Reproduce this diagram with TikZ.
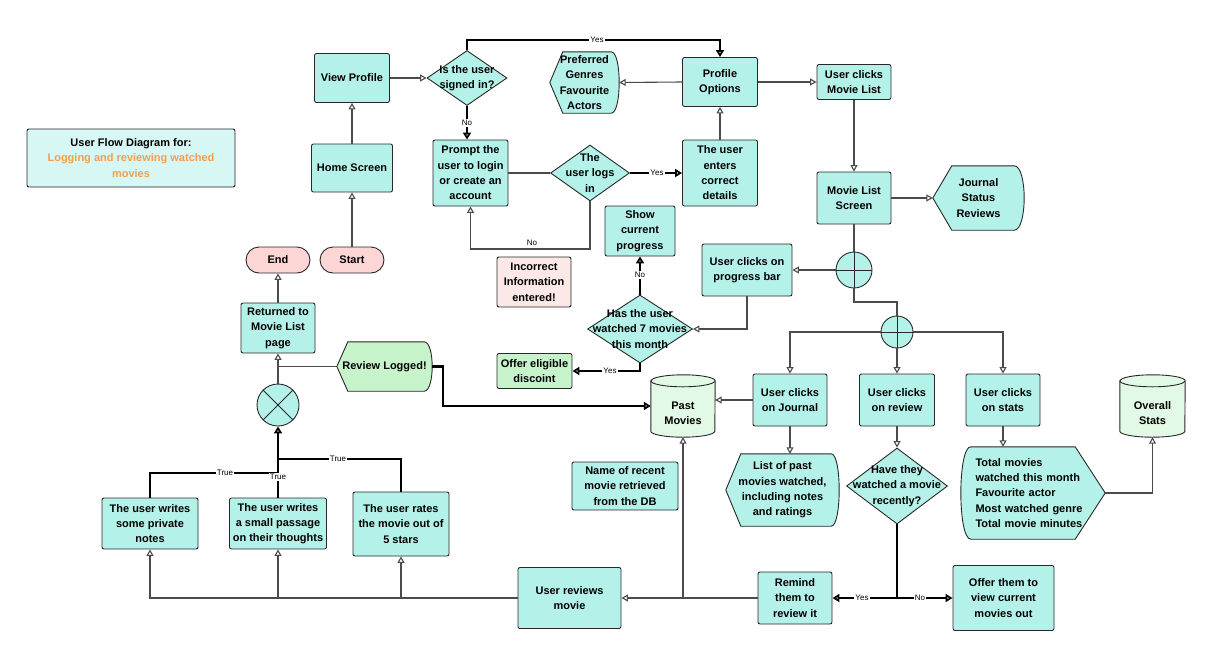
\documentclass[tikz,border=0pt]{standalone}
\usepackage{fontspec}
\setmainfont{Liberation Sans}
\usetikzlibrary{arrows.meta,shapes.geometric,backgrounds,calc}
\definecolor{cy}{RGB}{180,242,233}
\definecolor{gr}{RGB}{199,243,203}
\definecolor{cg}{RGB}{226,249,229}
\definecolor{pk}{RGB}{252,213,213}
\definecolor{pl}{RGB}{253,232,232}
\definecolor{tl}{RGB}{214,247,243}
\definecolor{org}{RGB}{240,160,80}
\definecolor{bd}{RGB}{40,40,40}
\definecolor{lc}{RGB}{75,75,75}
\tikzset{
  x=1pt, y=-1pt,
  fnt/.style={font=\bfseries\fontsize{11}{15.3}\selectfont},
  box/.style={draw=bd, line width=0.9pt, fill=cy, rounded corners=2pt, align=center, fnt, inner sep=0pt},
  sz/.style 2 args={minimum width=#1pt, minimum height=#2pt},
  pill/.style={box, fill=pk, rounded corners=13pt},
  dia/.style={diamond, draw=bd, line width=0.9pt, fill=cy, inner sep=0pt, aspect=1},
  txt/.style={align=center, fnt, inner sep=0pt},
  dnode/.style={align=center, fnt, inner sep=0pt},
  shp/.style={draw=bd, line width=0.9pt},
  crc/.style={circle, draw=bd, line width=0.9pt, fill=cy, inner sep=0pt},
  ln/.style={draw=lc, line width=1.1pt},
  arr/.style={ln, -{Triangle[open,length=6.5pt,width=7pt]}},
  tk/.style={draw=black, line width=2.2pt},
  tarr/.style={tk, -{Triangle[open,length=7pt,width=8pt]}},
  lab/.style={font=\fontsize{8}{9}\selectfont, fill=white, inner sep=1pt},
  labn/.style={font=\fontsize{8}{9}\selectfont, inner sep=1pt},
}
\newcommand{\dispL}[4]{%
\begin{pgfonlayer}{background}
\draw[shp,fill=#2] (#1.west) -- ([xshift=#3]#1.north west) -- ([xshift=-#4]#1.north east)
  .. controls ([xshift=0.33*#4]#1.north east) and ([xshift=0.33*#4]#1.south east) ..
  ([xshift=-#4]#1.south east) -- ([xshift=#3]#1.south west) -- cycle;
\end{pgfonlayer}}
\newcommand{\dispR}[4]{%
\begin{pgfonlayer}{background}
\draw[shp,fill=#2] (#1.east) -- ([xshift=-#3]#1.north east) -- ([xshift=#4]#1.north west)
  .. controls ([xshift=-0.33*#4]#1.north west) and ([xshift=-0.33*#4]#1.south west) ..
  ([xshift=#4]#1.south west) -- ([xshift=-#3]#1.south east) -- cycle;
\end{pgfonlayer}}
\newcommand{\cyl}[3]{%
\begin{pgfonlayer}{background}
\draw[shp,fill=#2] ([yshift=-6pt]#1.north west) -- ([yshift=6pt]#1.south west)
  arc[start angle=180,end angle=360,x radius=#3,y radius=6pt]
  -- ([yshift=-6pt]#1.north east)
  arc[start angle=0,end angle=180,x radius=#3,y radius=6pt] -- cycle;
\draw[shp] ([yshift=-6pt]#1.north west) arc[start angle=180,end angle=360,x radius=#3,y radius=6pt];
\end{pgfonlayer}}
\begin{document}
\begin{tikzpicture}
\useasboundingbox (0,0) rectangle (1206,648);
\begin{pgfonlayer}{background}
\fill[white] (0,0) rectangle (1206,648);
\end{pgfonlayer}

% title
\node[box, fill=tl, sz={208}{58}] (title) at (131,158) {User Flow Diagram for:\\\textcolor{org}{Logging and reviewing watched}\\\textcolor{org}{movies}};

% left column
\node[box, sz={75}{49}] (vp) at (352,78) {View Profile};
\node[box, sz={81}{48}] (hs) at (352,168) {Home Screen};
\node[pill, sz={64}{26}] (start) at (352,260) {Start};
\node[pill, sz={64}{26}] (fin) at (278,260) {End};

% sign-in
\node[dia, minimum width=80pt, minimum height=55pt] (d1) at (467,78) {};
\node[txt] (d1t) at (d1) {Is the user\\signed in?};
\node[box, sz={75}{66}] (prompt) at (470.5,173) {Prompt the\\user to login\\or create an\\account};
\node[dia, minimum width=79pt, minimum height=56pt] (d2) at (590,173) {};
\node[txt] (d2t) at (d2) {The\\user logs\\in};
\node[box, sz={75}{66}] (ued) at (720,173) {The user\\enters\\correct\\details};
\node[box, sz={75}{49}] (po) at (720,82) {Profile\\Options};
\node[dnode, sz={69}{61}] (pg) at (584.5,82.5) {Preferred\\Genres\\Favourite\\Actors};
\dispL{pg}{cy}{13pt}{8pt}
\node[box, sz={74}{35}] (ucml) at (854,82) {User clicks\\Movie List};
\node[box, sz={74}{52}] (mls) at (854,198) {Movie List\\Screen};
\node[dnode, sz={91}{64}] (jsr) at (978.5,198) {Journal\\Status\\Reviews};
\dispL{jsr}{cy}{19pt}{10pt}
\node[box, fill=pl, sz={74}{50}] (inc) at (534,282) {Incorrect\\Information\\entered!};

% progress
\node[crc, minimum size=36pt] (c1) at (854,270) {};
\draw[shp] (c1.north) -- (c1.south) (c1.west) -- (c1.east);
\node[box, sz={90}{52}] (upb) at (747,270) {User clicks on\\progress bar};
\node[box, sz={70}{50}] (scp) at (640,231) {Show\\current\\progress};
\node[dia, minimum width=105pt, minimum height=68pt] (d3) at (640,329) {};
\node[txt] (d3t) at (d3) {Has the user\\watched 7 movies\\this month};
\node[box, fill=gr, sz={75}{35}] (oed) at (534.5,371) {Offer eligible\\discoint};

% second split
\node[crc, minimum size=32pt] (c2) at (897,332) {};
\draw[shp] (c2.north) -- (c2.south) (c2.west) -- (c2.east);
\node[box, sz={74}{52}] (jour) at (790,400) {User clicks\\on Journal};
\node[box, sz={75}{52}] (rev) at (897,400) {User clicks\\on review};
\node[box, sz={74}{52}] (stats) at (1003,400) {User clicks\\on stats};
\node[dnode, sz={113}{72}] (lpm) at (782.5,490) {List of past\\movies watched,\\including notes\\and ratings};
\dispL{lpm}{cy}{15pt}{8pt}
\node[dia, minimum width=101pt, minimum height=76pt] (d4) at (897,486) {};
\node[txt] (d4t) at (d4) {Have they\\watched a movie\\recently?};
\node[dnode, align=left, text width=115pt, sz={144}{92}] (sd) at (1033,493) {Total movies\\watched this month\\Favourite actor\\Most watched genre\\Total movie minutes};
\dispR{sd}{cy}{30pt}{10pt}
\node[minimum width=65pt, minimum height=62pt, inner sep=0pt] (os) at (1152.5,406) {};
\cyl{os}{cg}{32.5pt}
\node[txt] (ost) at (1152.5,413) {Overall\\Stats};
\node[minimum width=64pt, minimum height=62pt, inner sep=0pt] (pm) at (683,406) {};
\cyl{pm}{cg}{32pt}
\node[txt] (pmt) at (683,413) {Past\\Movies};
\node[box, sz={106}{48}] (nrm) at (625,486) {Name of recent\\movie retrieved\\from the DB};
\node[box, sz={74}{52}] (rem) at (795,598) {Remind\\them to\\review it};
\node[box, sz={101}{65}] (ofr) at (1003.5,598) {Offer them to\\view current\\movies out};
\node[box, sz={103}{61}] (urm) at (569.5,598) {User reviews\\movie};

% review actions
\node[box, sz={96}{51}] (pn) at (150,523.5) {The user writes\\some private\\notes};
\node[box, sz={97}{51}] (sp) at (278,523.5) {The user writes\\a small passage\\on their thoughts};
\node[box, sz={96}{64}] (rt) at (401,524) {The user rates\\the movie out of\\5 stars};
\node[crc, minimum size=42pt] (sum) at (278,405) {};
\draw[shp] (sum.north west) -- (sum.south east) (sum.north east) -- (sum.south west);
\node[box, sz={74}{50}] (ret) at (278,328) {Returned to\\Movie List\\page};
\node[dnode, sz={95}{49}] (rl) at (384.5,366.5) {Review Logged!};
\dispL{rl}{gr}{11pt}{8pt}

% coordinates
\coordinate (ky) at (590,40);
\coordinate (kn) at (530,249);
\coordinate (k1) at (870,302);
\coordinate (j1) at (278,473);
\coordinate (j2) at (278,459);

% connectors
\draw[arr] (start) -- (hs);
\draw[arr] (hs) -- (vp);
\draw[arr] (vp.east) -- (d1.west);
\draw[tarr] (d1.north) |- (ky) -| (po.north);
\node[lab] (lyes1) at (597,40) {Yes};
\draw[tarr] (d1.south) -- (d1.south |- prompt.north);
\node[lab] (lno1) at (467,123) {No};
\draw[ln] (prompt.east) -- (d2.west);
\draw[tarr] (d2.east) -- (ued.west);
\node[lab] (lyes2) at (657,173) {Yes};
\draw[arr] (d2.south) |- (kn) -| (prompt.south);
\node[labn] (lno2) at (532,243) {No};
\draw[arr] (ued) -- (po);
\draw[arr] (po.west) -- (pg.east);
\draw[arr] (po.east) -- (ucml.west);
\draw[arr] (ucml) -- (mls);
\draw[arr] (mls.east) -- (jsr.west);
\draw[ln] (mls.south) -- (c1.north);
\draw[arr] (c1.west) -- (upb.east);
\draw[ln] (c1.south) |- (k1) -| (c2.north);
\draw[arr] (c2.west) -| (jour.north);
\draw[arr] (c2.south) -- (rev.north);
\draw[arr] (c2.east) -| (stats.north);
\draw[arr] (upb.south) |- (d3.east);
\draw[tarr] (d3.north) -- (scp.south);
\node[lab] (lno3) at (640,275) {No};
\draw[tarr] (d3.south) |- (oed.east);
\node[lab] (lyes3) at (610,371) {Yes};
\draw[arr] (jour.west) -- (jour.west -| pm.east);
\draw[arr] (jour.south) -- (jour.south |- lpm.north);
\draw[arr] (rev) -- (d4);
\draw[arr] (stats.south) -- (stats.south |- sd.north);
\draw[arr] (sd.east) -| (os.south);
\draw[tarr] (d4.south) |- (rem.east);
\draw[tarr] (d4.south) |- (ofr.west);
\node[lab] (lyes4) at (862,598) {Yes};
\node[lab] (lno4) at (920,598) {No};
\draw[arr] (rem.west) -- (urm.east);
\draw[arr] (rem.west -| pm.south) -- (pm.south);
\draw[arr] (urm.west) -| (pn.south);
\draw[arr] (urm.west -| sp.south) -- (sp.south);
\draw[arr] (urm.west -| rt.south) -- (rt.south);
\draw[tarr] (sp.north) -- (sum.south);
\draw[tk] (pn.north) |- (j1);
\draw[tk] (rt.north) |- (j2);
\node[lab] (lt1) at (225,473) {True};
\node[lab] (lt2) at (278,477) {True};
\node[lab] (lt3) at (338,459) {True};
\draw[arr] (sum.north) -- (ret.south);
\draw[ln] (rl.west) -- (rl.west -| sum.north);
\draw[tarr] (rl.east) -- ++(11pt,0) |- (pm.west);
\draw[arr] (ret) -- (fin);
\end{tikzpicture}
\end{document}
